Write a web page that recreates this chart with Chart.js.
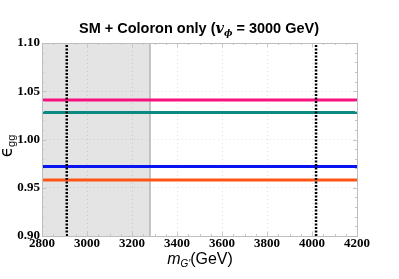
<!DOCTYPE html>
<html>
<head>
<meta charset="utf-8">
<script src="https://cdn.jsdelivr.net/npm/chart.js@4"></script>
<style>
  html, body { margin: 0; padding: 0; background: #fff; }
  #wrap { width: 399px; height: 279px; }
</style>
</head>
<body>
<div id="wrap"><canvas id="coloronChart"></canvas></div>
<script>
// values
var massRange = [2800, 4200];
var epsRange = [0.90, 1.10];
var xTicks = [2800, 3000, 3200, 3400, 3600, 3800, 4000, 4200];
var yTicks = [0.90, 0.95, 1.00, 1.05, 1.10];
var levels = [1.041, 1.028, 0.972, 0.958];
var levelColors = ['#f7117f', '#0c8a82', '#0814f2', '#ff5512'];
var limitMasses = [2910, 4018];
var excludedUpTo = 3280;

var datasets = [];

// excluded region (grey band)
datasets.push({
    data: [{x: massRange[0], y: epsRange[1]}, {x: excludedUpTo, y: epsRange[1]}],
    borderWidth: 0,
    pointRadius: 0,
    backgroundColor: 'rgba(0,0,0,0.105)',
    fill: 'start',
    order: 10
});
datasets.push({
    data: [{x: excludedUpTo, y: epsRange[0]}, {x: excludedUpTo, y: epsRange[1]}],
    borderColor: '#b4b4b4',
    borderWidth: 1.5,
    pointRadius: 0,
    order: 9
});

for (var i = 0; i < levels.length; i++) {
    datasets.push({
        data: [{x: massRange[0], y: levels[i]}, {x: massRange[1], y: levels[i]}],
        borderColor: levelColors[i],
        borderWidth: 3,
        pointRadius: 0,
        order: 2
    });
}

for (var j = 0; j < limitMasses.length; j++) {
    datasets.push({
        data: [{x: limitMasses[j], y: epsRange[0]}, {x: limitMasses[j], y: epsRange[1]}],
        borderColor: '#000',
        borderWidth: 2.5,
        borderDash: [2, 1.5],
        pointRadius: 0,
        order: 1
    });
}

var framePlugin = {
    id: 'frame',
    afterDatasetsDraw: function(chart) {
        var c = chart.ctx, a = chart.chartArea;
        var xs = chart.scales.x, ys = chart.scales.y;
        c.save();
        c.strokeStyle = '#c8c8c8';
        c.lineWidth = 1;
        // minor / major tick marks inside the frame
        for (var v = massRange[0]; v <= massRange[1]; v += 50) {
            var px = Math.round(xs.getPixelForValue(v)) + 0.5;
            var len = (v % 200 === 0) ? 4 : 2;
            c.beginPath();
            c.moveTo(px, a.bottom); c.lineTo(px, a.bottom - len);
            c.moveTo(px, a.top); c.lineTo(px, a.top + len);
            c.stroke();
        }
        for (var k = 0; k <= 20; k++) {
            var py = Math.round(ys.getPixelForValue(epsRange[0] + k * 0.01)) + 0.5;
            var l2 = (k % 5 === 0) ? 4 : 2;
            c.beginPath();
            c.moveTo(a.left, py); c.lineTo(a.left + l2, py);
            c.moveTo(a.right, py); c.lineTo(a.right - l2, py);
            c.stroke();
        }
        c.strokeStyle = '#bdbdbd';
        c.strokeRect(Math.round(a.left) + 0.5, Math.round(a.top) + 0.5,
                     Math.round(a.right - a.left), Math.round(a.bottom - a.top));
        c.restore();
    },
    afterDraw: function(chart) {
        var c = chart.ctx;
        c.save();
        c.fillStyle = '#000';
        c.textBaseline = 'alphabetic';
        // title with subscript
        var main = 'bold 14.5px "Liberation Sans", Arial, sans-serif';
        var ital = 'italic bold 14.5px "DejaVu Serif", serif';
        var sub = 'italic bold 9px "DejaVu Serif", serif';
        var p1 = 'SM + Coloron only (', p2 = 'v', p3 = '\u03d5', p4 = ' = 3000 GeV)';
        c.font = main; var w1 = c.measureText(p1).width, w4 = c.measureText(p4).width;
        c.font = ital; var w2 = c.measureText(p2).width;
        c.font = sub; var w3 = c.measureText(p3).width;
        var x = 199 - (w1 + w2 + w3 + w4) / 2, base = 33;
        c.font = main; c.fillText(p1, x, base); x += w1;
        c.font = ital; c.fillText(p2, x, base); x += w2;
        c.font = sub; c.fillText(p3, x, base + 3); x += w3;
        c.font = main; c.fillText(p4, x, base);

        // x axis label
        var m = 'italic 16px "Liberation Sans", Arial, sans-serif';
        var ms = 'italic 10px "Liberation Sans", Arial, sans-serif';
        var g = '16px "Liberation Sans", Arial, sans-serif';
        c.font = m; var a1 = c.measureText('m').width;
        c.font = ms; var a2 = c.measureText("G'").width;
        c.font = g; var a3 = c.measureText('(GeV)').width;
        var xx = 200 - (a1 + a2 + a3) / 2, yb = 264;
        c.font = m; c.fillText('m', xx, yb); xx += a1;
        c.font = ms; c.fillText("G'", xx, yb + 3); xx += a2;
        c.font = g; c.fillText('(GeV)', xx, yb);

        // y axis label
        c.translate(12, 146);
        c.rotate(-Math.PI / 2);
        var big = '17px "DejaVu Sans", sans-serif', small = '11px "Liberation Sans", Arial, sans-serif';
        c.font = big;
        var e1 = c.measureText('\u03f5').width;
        c.font = small;
        var e2 = c.measureText('gg').width;
        var sx = -(e1 + e2) / 2;
        c.font = big;
        c.fillText('\u03f5', sx, 0);
        c.font = small;
        c.fillText('gg', sx + e1, 3);
        c.restore();
    }
};

var ctx = document.getElementById('coloronChart').getContext('2d');
var chart = new Chart(ctx, {
    type: 'line',
    data: { datasets: datasets },
    plugins: [framePlugin],
    options: {
        responsive: true,
        maintainAspectRatio: false,
        animation: false,
        layout: { padding: { top: 43, right: 42, bottom: 0, left: 0 } },
        plugins: { legend: { display: false }, tooltip: { enabled: false } },
        scales: {
            x: {
                type: 'linear',
                min: massRange[0],
                max: massRange[1],
                afterBuildTicks: function(s) { s.ticks = xTicks.map(function(v) { return {value: v}; }); },
                afterFit: function(s) { s.height = 43; },
                grid: { color: '#e3e3e3', drawTicks: false, lineWidth: 1 },
                border: { display: false, dash: [1, 3] },
                ticks: {
                    padding: 0,
                    color: '#000',
                    maxRotation: 0,
                    callback: function(v) { return String(v); },
                    font: { family: '"Liberation Serif", "Times New Roman", serif', weight: 'bold', size: 13 }
                }
            },
            y: {
                type: 'linear',
                min: epsRange[0],
                max: epsRange[1],
                afterBuildTicks: function(s) { s.ticks = yTicks.map(function(v) { return {value: v}; }); },
                afterFit: function(s) { s.width = 42; },
                grid: { color: '#e3e3e3', drawTicks: false, lineWidth: 1 },
                border: { display: false, dash: [1, 3] },
                ticks: {
                    padding: 2,
                    color: '#000',
                    callback: function(v) { return v.toFixed(2); },
                    font: { family: '"Liberation Serif", "Times New Roman", serif', weight: 'bold', size: 13 }
                }
            }
        }
    }
});
</script>
</body>
</html>
